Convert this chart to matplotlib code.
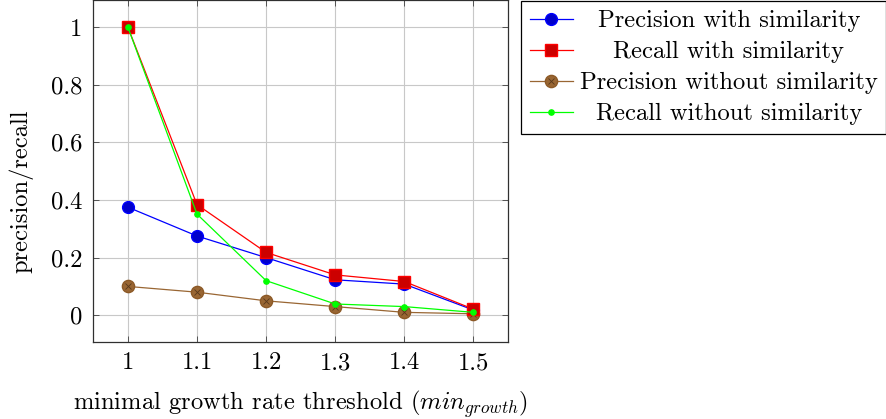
import matplotlib
matplotlib.use("Agg")
import matplotlib.pyplot as plt

# datos
umbral = [1.0, 1.1, 1.2, 1.3, 1.4, 1.5]
prec_sim = [0.375, 0.275, 0.20, 0.123, 0.108, 0.018]
rec_sim = [1.0, 0.384, 0.218, 0.14, 0.117, 0.021]
prec_nosim = [0.10, 0.08, 0.05, 0.03, 0.01, 0.005]
rec_nosim = [1.0, 0.351, 0.12, 0.039, 0.03, 0.01]
yticks = [0, 0.2, 0.4, 0.6, 0.8, 1]

plt.rcParams['font.family'] = ['cmr10', 'DejaVu Serif']
plt.rcParams['mathtext.fontset'] = 'cm'
plt.rcParams['axes.formatter.use_mathtext'] = True
fs = 17.7

fig = plt.figure(figsize=(8.86, 4.19), dpi=100)
ax = fig.add_axes([0.1053, 0.183, 0.4681, 0.817])

h1, = ax.plot(umbral, prec_sim, color='blue', lw=0.9, marker='o', ms=8.5,
              mfc=(0, 0, 0.8), mec='blue', zorder=3)
h2, = ax.plot(umbral, rec_sim, color='red', lw=0.9, marker='s', ms=8.5,
              mfc=(0.8, 0, 0), mec='red', zorder=4)
h3, = ax.plot(umbral, prec_nosim, color=(0.6, 0.4, 0.2), lw=0.9, marker='o', ms=8.8,
              mfc=(0.6, 0.4, 0.2), mec=(0.55, 0.35, 0.15), zorder=3)
h3x, = ax.plot(umbral, prec_nosim, ls='none', marker='x', ms=5,
               mec=(0.35, 0.22, 0.1), mew=0.6, zorder=3)
h4, = ax.plot(umbral, rec_nosim, color=(0, 1, 0), lw=0.9, marker='o', ms=3.8,
              mfc=(0, 1, 0), mec=(0, 1, 0), zorder=5)

ax.set_xlim(0.95, 1.55)
ax.set_ylim(-0.094, 1.094)
ax.set_xticks(umbral)
ax.set_xticklabels(['1', '1.1', '1.2', '1.3', '1.4', '1.5'])
ax.set_yticks(yticks)
ax.set_yticklabels(['0', '0.2', '0.4', '0.6', '0.8', '1'])
ax.grid(True, color='#c8c8c8', lw=0.8)
ax.set_axisbelow(True)
ax.tick_params(direction='in', top=True, right=True, labelsize=fs,
               length=4, width=0.6, color='#404040')
ax.tick_params(axis='x', pad=7)
ax.tick_params(axis='y', pad=8)
for s in ax.spines.values():
    s.set_linewidth(0.9)
    s.set_color('#303030')

ax.set_xlabel('minimal growth rate threshold ($min_{growth}$)', fontsize=fs, labelpad=10)
ax.set_ylabel('precision/recall', fontsize=fs)
ax.yaxis.set_label_coords(-0.145, 0.442)

leg = ax.legend([h1, h2, (h3, h3x), h4],
                ['Precision with similarity', 'Recall with similarity',
                 'Precision without similarity', 'Recall without similarity'],
                loc='lower left', bbox_to_anchor=(0.588, 0.680),
                bbox_transform=fig.transFigure, fontsize=fs,
                frameon=True, fancybox=False, edgecolor='black', framealpha=1,
                handlelength=1.75, handletextpad=0.3, labelspacing=0.36,
                borderpad=0.35, borderaxespad=0)
leg.get_frame().set_linewidth(0.9)

# centrar los textos de la leyenda
fig.canvas.draw()
r = fig.canvas.get_renderer()
anchos = [t.get_window_extent(r).width for t in leg.get_texts()]
for t, w in zip(leg.get_texts(), anchos):
    t.set_position(((max(anchos) - w) / 2, 0))

fig.savefig('out.png', dpi=100)
